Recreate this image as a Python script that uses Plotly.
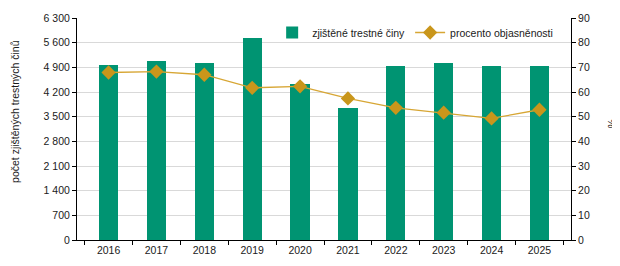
import plotly.graph_objects as go

# roky a hodnoty
roky = ['2016', '2017', '2018', '2019', '2020', '2021', '2022', '2023', '2024', '2025']
zjistene_tc = [4960, 5075, 5020, 5725, 4425, 3745, 4935, 5020, 4935, 4935]
objasnenost = [67.9, 68.3, 67.0, 61.7, 62.3, 57.4, 53.6, 51.6, 49.3, 52.8]

fig = go.Figure()
fig.add_trace(go.Bar(x=roky, y=zjistene_tc, name='zjištěné trestné činy',
                     marker=dict(color='#009472', line=dict(width=0)), width=0.4))
fig.add_trace(go.Scatter(x=roky, y=objasnenost, name='procento objasněnosti', yaxis='y2',
                         mode='lines+markers',
                         line=dict(color='#D7A634', width=1.3),
                         marker=dict(symbol='diamond', size=11, color='#C9961B')))

# stránka má okraj 8 px, proto je graf o 8 px menší
fig.update_layout(
    width=612, height=258,
    margin=dict(l=69, r=49, t=10, b=26),
    paper_bgcolor='white', plot_bgcolor='white',
    separators=', ',
    font=dict(family='Liberation Sans, Arial, sans-serif', size=10.5, color='#1a1a1a'),
    bargap=0,
    showlegend=True,
    legend=dict(orientation='h', x=0.974, xanchor='right', y=1.0, yanchor='top',
                bgcolor='rgba(255,255,255,0)', font=dict(size=10.5),
                itemwidth=30, tracegroupgap=0),
    xaxis=dict(showline=True, linecolor='black', linewidth=1, ticks='outside',
               ticklen=4, tickcolor='black', tickson='boundaries', showgrid=False,
               automargin=False),
    yaxis=dict(range=[0, 6300], dtick=700, tickformat=',d', showline=True, linecolor='black',
               linewidth=1, ticks='outside', ticklen=4, tickcolor='black',
               showgrid=True, gridcolor='#d9d9d9', gridwidth=1, zeroline=False,
               automargin=False),
    yaxis2=dict(range=[0, 90], dtick=10, overlaying='y', side='right', showline=True,
                linecolor='black', linewidth=1, ticks='outside', ticklen=4, tickcolor='black',
                showgrid=False, zeroline=False, automargin=False),
    annotations=[
        dict(text='počet zjištěných trestných činů', textangle=-90, x=0, y=0.577,
             xref='paper', yref='paper', xshift=-62, xanchor='center', yanchor='middle',
             showarrow=False),
        dict(text='%', textangle=90, x=1, y=0.527, xref='paper', yref='paper',
             xshift=41, xanchor='center', yanchor='middle', showarrow=False),
    ],
)

fig.write_html("out.html")
